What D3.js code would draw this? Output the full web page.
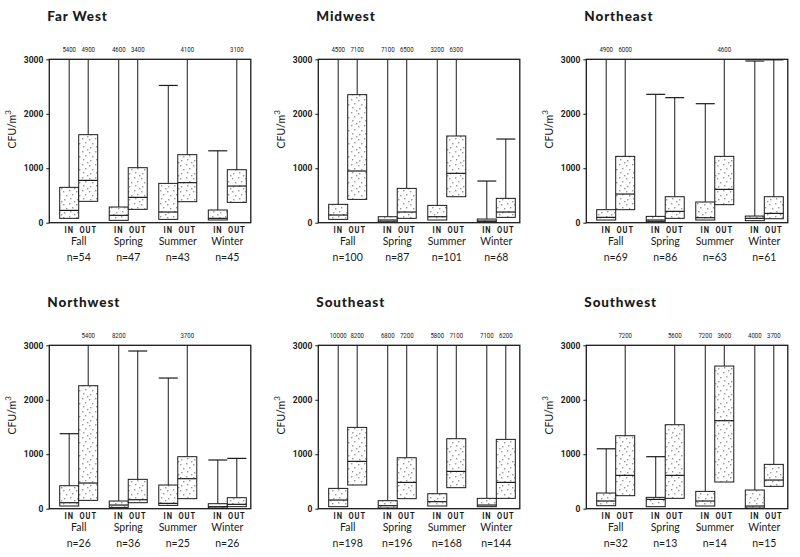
<!DOCTYPE html>
<html><head><meta charset="utf-8">
<script src="https://cdn.jsdelivr.net/npm/d3@7"></script>
<style>body{margin:0;background:#fff}</style>
</head><body>
<svg id="chart" width="800" height="557"></svg>
<script>
// ---------- data ----------
const regions = ["Far West", "Midwest", "Northeast", "Northwest", "Southeast", "Southwest"];
const seasons = ["Fall", "Spring", "Summer", "Winter"];
const locations = ["IN", "OUT"];
const sampleSizes = [
  [54, 47, 43, 45],
  [100, 87, 101, 68],
  [69, 86, 63, 61],
  [26, 36, 25, 26],
  [198, 196, 168, 144],
  [32, 13, 14, 15]
];
// order per region: Fall IN, Fall OUT, Spring IN, Spring OUT, Summer IN, Summer OUT, Winter IN, Winter OUT
const q1 = [
  [80, 392, 43, 245, 61, 386, 50, 373],
  [61, 428, 18, 80, 49, 477, 18, 98],
  [49, 239, 24, 80, 49, 331, 37, 73],
  [49, 153, 24, 110, 61, 184, 12, 37],
  [37, 435, 12, 184, 49, 386, 37, 190],
  [55, 239, 37, 190, 49, 490, 12, 410]
];
const medians = [
  [226, 777, 135, 465, 196, 735, 80, 673],
  [141, 949, 49, 196, 110, 906, 31, 196],
  [98, 526, 49, 208, 92, 612, 80, 171],
  [110, 471, 67, 165, 98, 551, 37, 80],
  [159, 869, 55, 483, 129, 685, 67, 483],
  [141, 612, 171, 612, 141, 1616, 49, 526]
];
const q3 = [
  [649, 1616, 288, 1010, 722, 1249, 233, 973],
  [337, 2351, 110, 630, 318, 1592, 67, 447],
  [239, 1218, 116, 477, 380, 1218, 122, 477],
  [422, 2258, 141, 539, 435, 955, 92, 202],
  [373, 1493, 147, 936, 275, 1285, 190, 1273],
  [288, 1340, 208, 1542, 318, 2619, 343, 814]
];
const maxima = [
  [5400, 4900, 4600, 3400, 2520, 4100, 1320, 3100],
  [4500, 7100, 7100, 6500, 3200, 6300, 765, 1536],
  [4900, 6000, 2357, 2296, 2185, 4600, 2969, 2990],
  [1377, 5400, 8200, 2895, 2399, 3700, 894, 924],
  [10000, 8200, 6800, 7200, 5800, 7100, 7100, 6200],
  [1100, 7200, 955, 5600, 7200, 3600, 4000, 3700]
];
const yTicks = [0, 1000, 2000, 3000];
const yMax = 3000;

// ---------- layout ----------
const svg = d3.select("#chart");
const panelLeft = [49.3, 318.3, 586.3];
const panelTop = [59.3, 345.3];
const W = 201.5, H = 163.4;
const ink = "#1a1a1a";

// stipple pattern
const defs = svg.append("defs");
const pat = defs.append("pattern").attr("id", "stipple")
  .attr("patternUnits", "userSpaceOnUse").attr("width", 13).attr("height", 13);
pat.append("rect").attr("width", 13).attr("height", 13).attr("fill", "#fff");
[[1, 2], [7, 1], [4, 6], [10, 5], [2, 10], [8, 9], [12, 12]].forEach(([px, py]) =>
  pat.append("rect").attr("x", px).attr("y", py).attr("width", 1).attr("height", 1).attr("fill", "#333"));

const x = d3.scalePoint().domain(seasons).range([29.4, 178]);
const sub = d3.scaleBand().domain(locations).range([-19, 19]).paddingInner(0);
const y = d3.scaleLinear().domain([0, yMax]).range([H, 0]);

regions.forEach((name, i) => {
  const col = i % 3, row = Math.floor(i / 3);
  const g = svg.append("g").attr("transform", `translate(${panelLeft[col]},${panelTop[row]})`);

  // title
  g.append("text").attr("x", -2).attr("y", -38)
    .attr("font-family", "Lato, 'Open Sans', sans-serif").attr("font-weight", 900)
    .attr("font-size", 13.5).attr("letter-spacing", 0.9).attr("fill", ink).text(name);

  // y axis label
  const yl = g.append("text").attr("transform", `translate(-33,70) rotate(-90)`)
    .attr("text-anchor", "middle").attr("font-family", "Lato, sans-serif")
    .attr("font-size", 10.5).attr("fill", ink);
  yl.append("tspan").text("CFU/m");
  yl.append("tspan").attr("dy", -5).attr("font-size", 8).text("3");

  // axis
  const ax = g.append("g").call(d3.axisLeft(y).tickValues(yTicks).tickSize(3).tickPadding(3).tickFormat(d3.format("d")));
  ax.select(".domain").remove();
  ax.selectAll("line").attr("stroke", ink);
  ax.selectAll("text").attr("font-family", "Roboto, sans-serif").attr("font-weight", 700)
    .attr("font-size", 8.5).attr("fill", ink);

  // boxes
  const boxes = [];
  seasons.forEach((s, si) => locations.forEach((loc, li) => {
    const k = si * 2 + li;
    boxes.push({ season: s, loc, q1: q1[i][k], med: medians[i][k], q3: q3[i][k], max: maxima[i][k] });
  }));
  const cx = d => x(d.season) + sub(d.loc) + sub.bandwidth() / 2;
  const bw = sub.bandwidth();

  // whiskers
  g.selectAll(".wh").data(boxes).join("line")
    .attr("x1", cx).attr("x2", cx)
    .attr("y1", d => y(d.q3)).attr("y2", d => y(Math.min(d.max, yMax)))
    .attr("stroke", ink).attr("stroke-width", 1);
  g.selectAll(".cap").data(boxes.filter(d => d.max <= yMax)).join("line")
    .attr("x1", d => cx(d) - bw / 2).attr("x2", d => cx(d) + bw / 2)
    .attr("y1", d => y(d.max)).attr("y2", d => y(d.max))
    .attr("stroke", ink).attr("stroke-width", 1.2);
  // max labels for off-scale values
  g.selectAll(".mx").data(boxes.filter(d => d.max > yMax)).join("text")
    .attr("transform", d => `translate(${cx(d)},-7) scale(0.78,1)`).attr("text-anchor", "middle")
    .attr("font-family", "Roboto, sans-serif").attr("font-size", 7.8)
    .attr("fill", ink).text(d => d.max);

  // boxes
  g.selectAll(".bx").data(boxes).join("rect")
    .attr("x", d => cx(d) - bw / 2).attr("width", bw)
    .attr("y", d => y(d.q3)).attr("height", d => y(d.q1) - y(d.q3))
    .attr("fill", "url(#stipple)").attr("stroke", ink).attr("stroke-width", 1);
  g.selectAll(".md").data(boxes).join("line")
    .attr("x1", d => cx(d) - bw / 2).attr("x2", d => cx(d) + bw / 2)
    .attr("y1", d => y(d.med)).attr("y2", d => y(d.med))
    .attr("stroke", ink).attr("stroke-width", 1.2);

  // frame
  g.append("rect").attr("width", W).attr("height", H).attr("fill", "none")
    .attr("stroke", ink).attr("stroke-width", 1.3);

  // IN / OUT labels
  g.selectAll(".loc").data(boxes).join("text")
    .attr("transform", d => `translate(${cx(d)},${H + 9.8}) scale(0.85,1)`).attr("text-anchor", "middle")
    .attr("font-family", "Roboto, sans-serif").attr("font-weight", 700)
    .attr("font-size", 8.8).attr("letter-spacing", 1.1).attr("fill", ink).text(d => d.loc);
  // season labels
  g.selectAll(".sea").data(seasons).join("text")
    .attr("x", d => x(d)).attr("y", H + 22).attr("text-anchor", "middle")
    .attr("font-family", "Lato, sans-serif").attr("font-size", 10.5).attr("fill", ink).text(d => d);
  // n labels
  g.selectAll(".n").data(seasons).join("text")
    .attr("x", d => x(d)).attr("y", H + 38.5).attr("text-anchor", "middle")
    .attr("font-family", "Lato, sans-serif").attr("font-size", 10.5).attr("fill", ink)
    .text((d, si) => "n=" + sampleSizes[i][si]);
});
</script>
</body></html>
